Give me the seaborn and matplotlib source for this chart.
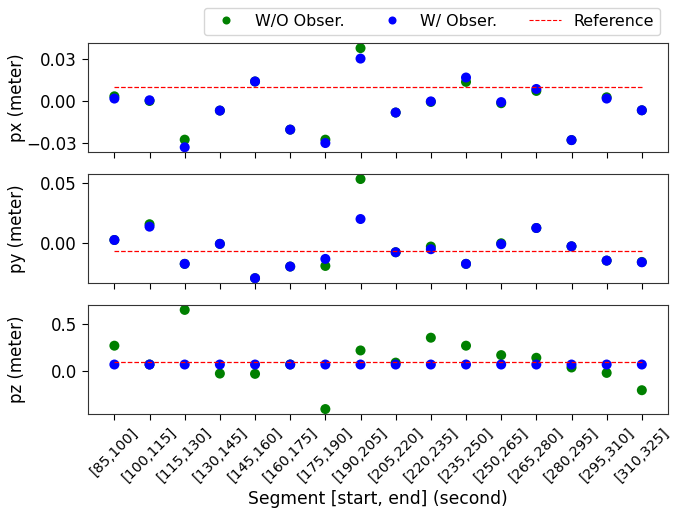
import matplotlib
matplotlib.use("Agg")
import matplotlib.pyplot as plt
from matplotlib.lines import Line2D
import numpy as np
import pandas as pd
import seaborn as sns

segments = ["[85,100]", "[100,115]", "[115,130]", "[130,145]", "[145,160]",
            "[160,175]", "[175,190]", "[190,205]", "[205,220]", "[220,235]",
            "[235,250]", "[250,265]", "[265,280]", "[280,295]", "[295,310]",
            "[310,325]"]

px_wo = [0.0033, 0.0000, -0.0274, -0.0068, 0.0138, -0.0203, -0.0274, 0.0374,
         -0.0082, -0.0007, 0.0135, -0.0016, 0.0071, -0.0277, 0.0026, -0.0066]
px_w = [0.0017, 0.0005, -0.0328, -0.0068, 0.0138, -0.0203, -0.0298, 0.0300,
        -0.0082, -0.0003, 0.0166, -0.0008, 0.0085, -0.0277, 0.0017, -0.0066]

py_wo = [0.0027, 0.0157, -0.0170, -0.0005, -0.0288, -0.0192, -0.0187, 0.0530,
         -0.0074, -0.0027, -0.0170, 0.0000, 0.0126, -0.0025, -0.0143, -0.0154]
py_w = [0.0027, 0.0137, -0.0170, -0.0005, -0.0288, -0.0192, -0.0129, 0.0200,
        -0.0074, -0.0049, -0.0170, -0.0008, 0.0126, -0.0025, -0.0143, -0.0157]

pz_wo = [0.268, 0.070, 0.644, -0.025, -0.028, 0.070, -0.398, 0.218,
         0.090, 0.352, 0.268, 0.169, 0.141, 0.039, -0.018, -0.200]
pz_w = [0.070, 0.070, 0.070, 0.070, 0.070, 0.070, 0.070, 0.070,
        0.070, 0.070, 0.070, 0.070, 0.070, 0.070, 0.070, 0.070]

ref_px = 0.010
ref_py = -0.0063
ref_pz = 0.100

labels = ["W/O Obser.", "W/ Obser."]
palette = {"W/O Obser.": "green", "W/ Obser.": "blue"}

sns.set_style("ticks", {"axes.edgecolor": ".2", "xtick.color": "black",
                        "ytick.color": "black", "text.color": "black",
                        "axes.labelcolor": "black"})
plt.rcParams["font.family"] = ["DejaVu Sans"]

fig, axes = plt.subplots(3, 1, figsize=(6.77, 5.08), dpi=100, sharex=True)
fig.subplots_adjust(left=0.130, right=0.987, top=0.915, bottom=0.185, hspace=0.2)

panels = [
    ("px (meter)", px_wo, px_w, ref_px, [-0.03, 0.0, 0.03]),
    ("py (meter)", py_wo, py_w, ref_py, [0.0, 0.05]),
    ("pz (meter)", pz_wo, pz_w, ref_pz, [0.0, 0.5]),
]

for i, (ylab, wo, w, ref, yt) in enumerate(panels):
    ax = axes[i]
    df = pd.DataFrame({
        "segment": segments * 2,
        "value": list(wo) + list(w),
        "method": [labels[0]] * len(segments) + [labels[1]] * len(segments),
    })
    sns.scatterplot(data=df, x="segment", y="value", hue="method",
                    palette=palette, s=52, linewidth=0, ax=ax, legend=False)
    ax.plot(segments, [ref] * len(segments), "--", color="red", lw=0.9,
            label="Reference")
    ax.set_yticks(yt)
    ax.set_ylabel(ylab, fontsize=12)
    ax.yaxis.set_label_coords(-0.107, 0.5)
    ax.set_xlabel("")
    ax.tick_params(axis="both", labelsize=12, length=4.5, width=0.8)
    for sp in ax.spines.values():
        sp.set_linewidth(0.8)

axes[2].set_xlabel("Segment [start, end] (second)", fontsize=12.3)
plt.setp(axes[2].get_xticklabels(), rotation=45, fontsize=10.3)

handles = [
    Line2D([], [], marker="o", ls="", color="green", markersize=5.8, markeredgewidth=0),
    Line2D([], [], marker="o", ls="", color="blue", markersize=5.8, markeredgewidth=0),
    Line2D([], [], ls="--", color="red", lw=0.8),
]
axes[0].legend(handles, labels + ["Reference"], ncol=3, loc="lower right",
               bbox_to_anchor=(1.0, 1.0), fontsize=11.4, frameon=True)

fig.savefig("out.png", dpi=100)
